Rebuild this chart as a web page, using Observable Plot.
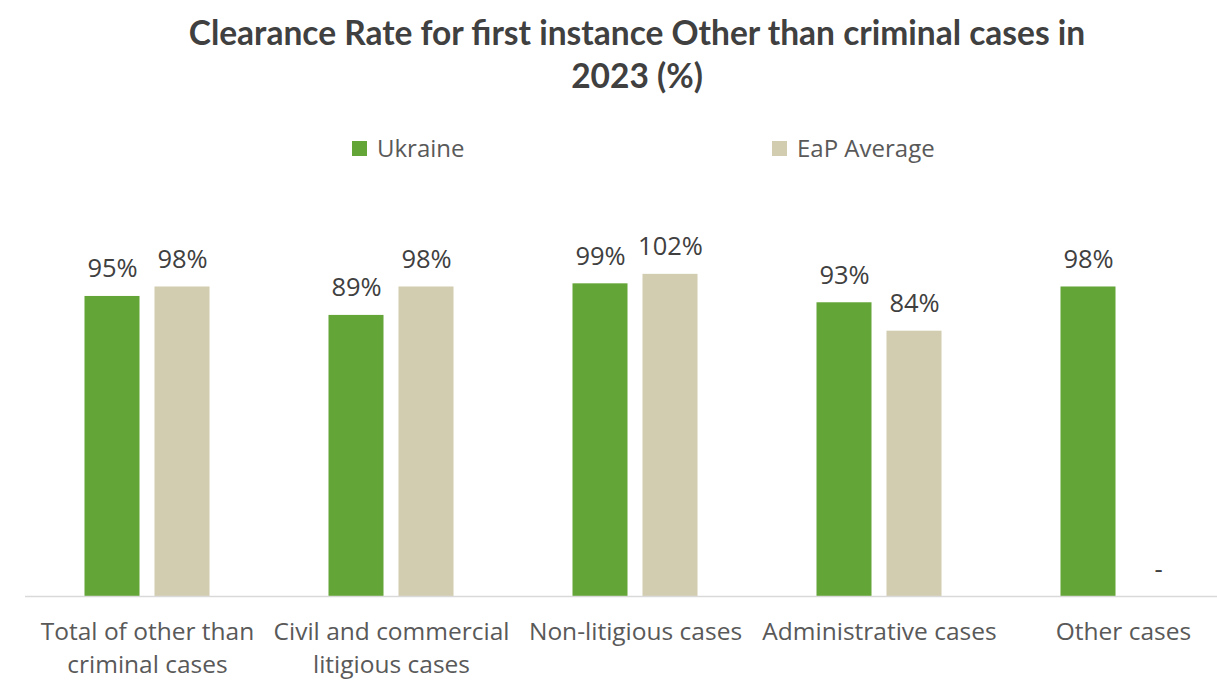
<!DOCTYPE html>
<html>
<head>
<meta charset="utf-8">
<script src="https://cdn.jsdelivr.net/npm/d3@7"></script>
<script src="https://cdn.jsdelivr.net/npm/@observablehq/plot@0.6"></script>
<style>
  html, body { margin: 0; padding: 0; background: #fff; }
  #wrap { position: relative; width: 1217px; height: 681px; overflow: hidden; font-family: "Open Sans", sans-serif; }
  #title { position: absolute; left: 0; top: 11px; width: 1274px; text-align: center; font-family: Lato, sans-serif; font-weight: bold; font-size: 33.5px; line-height: 43px; color: #404040; }
  .leg { position: absolute; top: 131px; font-size: 24px; line-height: 34px; color: #595959; display: flex; align-items: center; white-space: nowrap; }
  .sw { width: 15px; height: 15px; margin-right: 10px; display: inline-block; }
  #chart { position: absolute; left: 0; top: 170px; width: 1245px; }
  #chart svg { max-width: none !important; }
</style>
</head>
<body>
<div id="wrap">
  <div id="title">Clearance Rate for first instance Other than criminal cases in<br>2023 (%)</div>
  <div class="leg" id="leg1" style="left:352px"></div>
  <div class="leg" id="leg2" style="left:772px"></div>
  <div id="chart"></div>
</div>
<script>
const categories = [
  "Total of other than\ncriminal cases",
  "Civil and commercial\nlitigious cases",
  "Non-litigious cases",
  "Administrative cases",
  "Other cases"
];
const seriesNames = ["Ukraine", "EaP Average"];
const ukraine = [95, 89, 99, 93, 98];
const eapAverage = [98, 98, 102, 84, null];
const colors = ["#63a537", "#d2ccb0"];

const dataU = categories.map((c, i) => ({cat: c, value: ukraine[i]}));
const dataE = categories.map((c, i) => ({cat: c, value: eapAverage[i]}));
const labelFor = v => v == null ? "-" : `${v}%`;

document.getElementById("leg1").innerHTML = `<span class="sw" style="background:${colors[0]}"></span>${seriesNames[0]}`;
document.getElementById("leg2").innerHTML = `<span class="sw" style="background:${colors[1]}"></span>${seriesNames[1]}`;

const inset = (244 - 55) / 2;
const chart = Plot.plot({
  width: 1245,
  height: 511,
  marginLeft: 25,
  marginRight: 0,
  marginTop: 47,
  marginBottom: 85,
  style: {fontFamily: "Open Sans, sans-serif", fontSize: "24px", color: "#595959", background: "white", maxWidth: "none"},
  x: {domain: categories, padding: 0, label: null},
  y: {domain: [0, 120], axis: null},
  marks: [
    Plot.barY(dataU, {x: "cat", y: "value", fill: colors[0], dx: -35, insetLeft: inset, insetRight: inset}),
    Plot.barY(dataE.filter(d => d.value != null), {x: "cat", y: "value", fill: colors[1], dx: 35, insetLeft: inset, insetRight: inset}),
    Plot.text(dataU, {x: "cat", y: "value", text: d => labelFor(d.value), dx: -35, dy: -19, lineAnchor: "bottom", fill: "#404040", fontSize: 25.5}),
    Plot.text(dataE, {x: "cat", y: d => d.value ?? 0, text: d => labelFor(d.value), dx: 35, dy: -19, lineAnchor: "bottom", fill: "#404040", fontSize: 25.5}),
    Plot.ruleY([0], {stroke: "#d9d9d9", strokeWidth: 1.5}),
    Plot.axisX({tickSize: 0, tickPadding: 20, lineHeight: 1.35, fontSize: 24.5, fill: "#595959", label: null})
  ]
});
document.getElementById("chart").appendChild(chart);
</script>
</body>
</html>
